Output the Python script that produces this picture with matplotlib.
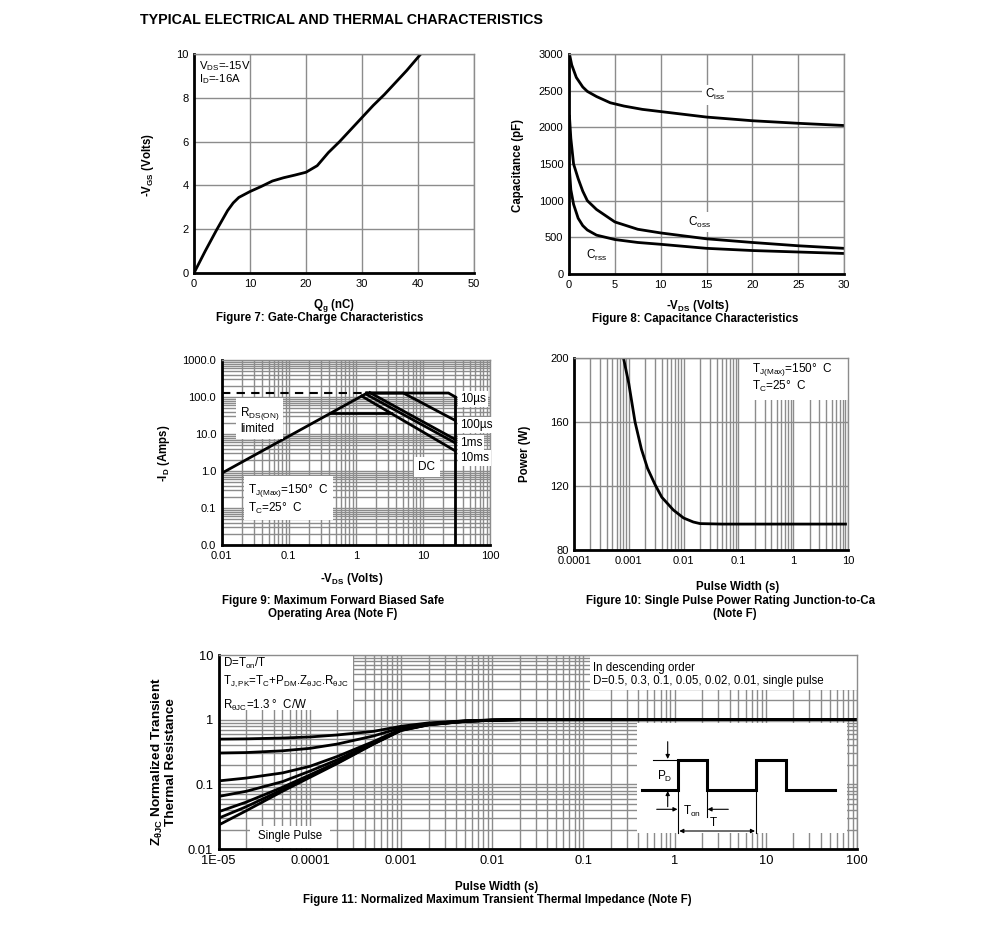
import numpy as np
import matplotlib
matplotlib.use("Agg")
import matplotlib.pyplot as plt
from matplotlib.ticker import FixedLocator, LogLocator, NullFormatter, FixedFormatter
from matplotlib.patches import Rectangle

plt.rcParams['font.family'] = 'Liberation Sans'
plt.rcParams['mathtext.fontset'] = 'custom'
plt.rcParams['mathtext.rm'] = 'Liberation Sans'
plt.rcParams['mathtext.it'] = 'Liberation Sans:italic'
plt.rcParams['mathtext.bf'] = 'Liberation Sans:bold'
plt.rcParams['mathtext.default'] = 'regular'

# ---- data ----
# Figure 7: gate charge
qg = [0, 2, 4, 6, 7, 8, 10, 12, 14, 16, 18, 20, 22, 24, 26, 28, 30, 32, 34, 36, 38, 40.5]
vgs = [0, 1.0, 1.95, 2.85, 3.2, 3.45, 3.72, 3.95, 4.2, 4.35, 4.47, 4.6, 4.9, 5.5, 6.0, 6.55, 7.1,
       7.65, 8.15, 8.7, 9.25, 10]

# Figure 8: capacitance
ciss_v = [0.05, 0.3, 0.8, 1.5, 2, 3, 4.5, 6, 8, 10, 15, 20, 25, 30]
ciss_c = [3000, 2850, 2680, 2550, 2490, 2420, 2335, 2290, 2245, 2215, 2140, 2090, 2055, 2025]
coss_v = [0.05, 0.2, 0.5, 1, 1.5, 2, 3, 5, 7.5, 10, 15, 20, 25, 30]
coss_c = [2150, 1850, 1500, 1300, 1130, 1000, 880, 710, 610, 560, 480, 430, 385, 350]
crss_v = [0.05, 0.2, 0.5, 1, 1.5, 2, 3, 5, 7.5, 10, 15, 20, 25, 30]
crss_c = [1420, 1150, 950, 760, 660, 600, 530, 470, 430, 405, 350, 320, 300, 280]

# Figure 9: safe operating area
rds_v, rds_i = [0.01, 1.45], [0.87, 126]
lim_v, lim_i = [0.01, 1.45], [126, 126]
us10_v, us10_i = [1.45, 24, 30], [128, 128, 102]
us100_v, us100_i = [1.45, 5.1, 30], [128, 128, 23.5]
ms1_v, ms1_i = [1.62, 30], [131, 7.2]
ms10_v, ms10_i = [1.41, 30], [120, 5.8]
dc_v, dc_i = [1.22, 30], [106, 3.54]
dcflat_v, dcflat_i = [0.41, 3.4], [36, 36]
vmax_v, vmax_i = [30, 30], [102, 0.01]

# Figure 10: single pulse power
pw = [0.0008, 0.001, 0.0013, 0.0017, 0.0022, 0.003, 0.004, 0.0065, 0.01, 0.015, 0.02, 0.05, 0.1, 1, 9]
pwr = [200, 184, 160, 143, 131, 121, 113, 105, 100, 97.5, 96.5, 96.2, 96.2, 96.2, 96.2]

# Figure 11: transient thermal impedance
zt = [1e-5, 2e-5, 5e-5, 1e-4, 2e-4, 5e-4, 1e-3, 2e-3, 5e-3, 1e-2, 2e-2, 100]
z_d05 = [0.50, 0.505, 0.52, 0.54, 0.58, 0.66, 0.79, 0.89, 0.96, 0.99, 1.0, 1.0]
z_d03 = [0.305, 0.31, 0.33, 0.36, 0.42, 0.56, 0.75, 0.87, 0.955, 0.985, 1.0, 1.0]
z_d01 = [0.113, 0.125, 0.15, 0.19, 0.27, 0.46, 0.71, 0.85, 0.95, 0.985, 1.0, 1.0]
z_d005 = [0.065, 0.078, 0.11, 0.16, 0.24, 0.44, 0.70, 0.845, 0.945, 0.98, 1.0, 1.0]
z_d002 = [0.0377, 0.053, 0.09, 0.14, 0.22, 0.43, 0.69, 0.84, 0.94, 0.98, 1.0, 1.0]
z_d001 = [0.030, 0.045, 0.083, 0.133, 0.215, 0.425, 0.685, 0.835, 0.94, 0.98, 1.0, 1.0]
z_single = [0.0235, 0.039, 0.078, 0.128, 0.21, 0.42, 0.68, 0.83, 0.94, 0.98, 1.0, 1.0]

# ---- layout helpers (pixel based) ----
W, H = 991, 948
GRID = '#8c8c8c'
LBL = 8.3    # bold axis labels / captions
TXT = 8.5    # in-plot notes
fig = plt.figure(figsize=(W / 100, H / 100), dpi=100)


def rect(x0, x1, y0, y1):
    return [x0 / W, 1 - y1 / H, (x1 - x0) / W, (y1 - y0) / H]


def ftext(x, y, s, **kw):
    kw.setdefault('fontsize', LBL)
    kw.setdefault('fontweight', 'bold')
    kw.setdefault('va', 'center')
    kw.setdefault('ha', 'center')
    fig.text(x / W, 1 - y / H, s, **kw)


def style(ax, size=8):
    for s in ('left', 'bottom'):
        ax.spines[s].set_color('black')
        ax.spines[s].set_linewidth(2)
    for s in ('top', 'right'):
        ax.spines[s].set_color(GRID)
        ax.spines[s].set_linewidth(1)
    ax.tick_params(which='both', length=0, labelsize=size, pad=4)


def logaxis(axis, ticks, labels):
    axis.set_major_locator(FixedLocator(ticks))
    axis.set_major_formatter(FixedFormatter(labels))
    axis.set_minor_locator(LogLocator(base=10, subs=np.arange(2, 10), numticks=20))
    axis.set_minor_formatter(NullFormatter())


box = dict(facecolor='white', edgecolor='none', pad=1.5)
LW = 2

ftext(140, 20, 'TYPICAL ELECTRICAL AND THERMAL CHARACTERISTICS', ha='left', fontsize=10.3)

# ---- Figure 7 ----
ax = fig.add_axes(rect(194, 474, 54, 273))
ax.plot(qg, vgs, color='k', lw=LW)
ax.set_xlim(0, 50)
ax.set_ylim(0, 10)
ax.set_xticks(range(0, 51, 10))
ax.set_yticks(range(0, 11, 2))
ax.grid(True, color=GRID, lw=1)
style(ax)
ax.text(0.018, 0.915, 'V$_{DS}$=-15V\nI$_{D}$=-16A', transform=ax.transAxes, fontsize=8.2,
        va='center', linespacing=1.0)
ftext(148, 165, '-V$_{GS}$ (Volts)', rotation=90)
ftext(334, 305, 'Q$_{g}$ (nC)')
ftext(320, 318, 'Figure 7: Gate-Charge Characteristics')

# ---- Figure 8 ----
ax = fig.add_axes(rect(569, 844, 54, 274))
ax.plot(ciss_v, ciss_c, color='k', lw=LW)
ax.plot(coss_v, coss_c, color='k', lw=LW)
ax.plot(crss_v, crss_c, color='k', lw=LW)
ax.set_xlim(0, 30)
ax.set_ylim(0, 3000)
ax.set_xticks(range(0, 31, 5))
ax.set_yticks(range(0, 3001, 500))
ax.grid(True, color=GRID, lw=1)
style(ax)
ax.text(15.9, 2442, 'C$_{iss}$', fontsize=TXT, ha='center', va='center', bbox=box)
ax.text(14.2, 709, 'C$_{oss}$', fontsize=TXT, ha='center', va='center', bbox=box)
ax.text(3.05, 259, 'C$_{rss}$', fontsize=TXT, ha='center', va='center', bbox=box)
ftext(518, 165, 'Capacitance (pF)', rotation=90)
ftext(698, 306, '-V$_{DS}$ (Volts)')
ftext(695, 319, 'Figure 8: Capacitance Characteristics')

# ---- Figure 9 ----
ax = fig.add_axes(rect(221.7, 490, 360, 545))
ax.set_xscale('log')
ax.set_yscale('log')
ax.plot(lim_v, lim_i, color='k', lw=1.5, ls=(0, (4, 3)))
for xs, ys in [(rds_v, rds_i), (us10_v, us10_i), (us100_v, us100_i), (ms1_v, ms1_i),
               (ms10_v, ms10_i), (dc_v, dc_i), (dcflat_v, dcflat_i), (vmax_v, vmax_i)]:
    ax.plot(xs, ys, color='k', lw=LW, solid_joinstyle='miter')
ax.set_xlim(0.01, 100)
ax.set_ylim(0.01, 1000)
logaxis(ax.xaxis, [0.01, 0.1, 1, 10, 100], ['0.01', '0.1', '1', '10', '100'])
logaxis(ax.yaxis, [0.01, 0.1, 1, 10, 100, 1000], ['0.0', '0.1', '1.0', '10.0', '100.0', '1000.0'])
ax.grid(True, which='both', color=GRID, lw=1)
style(ax)
ax.text(0.0187, 23.9, 'R$_{DS(ON)}$\nlimited', fontsize=TXT, va='center', bbox=dict(box, pad=3),
        linespacing=1.1)
ax.text(0.0247, 0.175, 'T$_{J(Max)}$=150°  C\nT$_{C}$=25°  C', fontsize=TXT, va='center',
        bbox=dict(box, pad=3), linespacing=1.1)
for y, s in [(88, '10µs'), (17.5, '100µs'), (5.7, '1ms'), (2.24, '10ms')]:
    ax.text(35.5, y, s, fontsize=TXT, va='center', bbox=box)
ax.text(11.5, 1.28, 'DC', fontsize=TXT, ha='center', va='center', bbox=dict(box, pad=3))
ftext(164, 453, '-I$_{D}$ (Amps)', rotation=90)
ftext(352, 579, '-V$_{DS}$ (Volts)')
ftext(333, 601, 'Figure 9: Maximum Forward Biased Safe')
ftext(333, 614, 'Operating Area (Note F)')

# ---- Figure 10 ----
ax = fig.add_axes(rect(574, 848, 358, 550))
ax.set_xscale('log')
ax.plot(pw, pwr, color='k', lw=LW)
ax.set_xlim(1e-4, 10)
ax.set_ylim(80, 200)
logaxis(ax.xaxis, [1e-4, 1e-3, 1e-2, 0.1, 1, 10], ['0.0001', '0.001', '0.01', '0.1', '1', '10'])
ax.set_yticks([80, 120, 160, 200])
ax.grid(True, axis='x', which='both', color=GRID, lw=1)
ax.grid(True, axis='y', which='major', color=GRID, lw=1)
style(ax)
ax.add_patch(Rectangle((0.642, 0.781), 0.358, 0.219, transform=ax.transAxes,
                       facecolor='white', edgecolor='none', zorder=1.6))
ax.text(0.65, 0.90, 'T$_{J(Max)}$=150°  C\nT$_{C}$=25°  C', transform=ax.transAxes,
        fontsize=TXT, va='center', linespacing=1.1)
ftext(525, 454, 'Power (W)', rotation=90)
ftext(738, 587, 'Pulse Width (s)')
ftext(586, 601, 'Figure 10: Single Pulse Power Rating Junction-to-Ca', ha='left')
ftext(735, 614, '(Note F)')

# ---- Figure 11 ----
ax = fig.add_axes(rect(218.7, 857, 655, 849))
ax.set_xscale('log')
ax.set_yscale('log')
for zs in [z_d05, z_d03, z_d01, z_d005, z_d002, z_d001, z_single]:
    ax.plot(zt, zs, color='k', lw=LW)
ax.set_xlim(1e-5, 100)
ax.set_ylim(0.01, 10)
logaxis(ax.xaxis, [1e-5, 1e-4, 1e-3, 1e-2, 0.1, 1, 10, 100],
        ['1E-05', '0.0001', '0.001', '0.01', '0.1', '1', '10', '100'])
logaxis(ax.yaxis, [0.01, 0.1, 1, 10], ['0.01', '0.1', '1', '10'])
ax.grid(True, which='both', color=GRID, lw=1)
style(ax, size=9.3)
for x0, y0, w, h in [(0.0, 0.716, 0.21, 0.284), (0.582, 0.82, 0.418, 0.18),
                     (0.049, 0.006, 0.126, 0.113), (0.655, 0.082, 0.329, 0.567)]:
    ax.add_patch(Rectangle((x0, y0), w, h, transform=ax.transAxes,
                           facecolor='white', edgecolor='none', zorder=1.6))
ax.text(0.007, 0.959, 'D=T$_{on}$/T', transform=ax.transAxes, fontsize=LBL, va='center')
ax.text(0.007, 0.866, 'T$_{J,PK}$=T$_{C}$+P$_{DM}$.Z$_{θJC}$.R$_{θJC}$', transform=ax.transAxes,
        fontsize=LBL, va='center')
ax.text(0.007, 0.742, 'R$_{θJC}$=1.3 °  C/W', transform=ax.transAxes, fontsize=LBL, va='center')
ax.text(0.586, 0.933, 'In descending order', transform=ax.transAxes, fontsize=LBL, va='center')
ax.text(0.586, 0.866, 'D=0.5, 0.3, 0.1, 0.05, 0.02, 0.01, single pulse', transform=ax.transAxes,
        fontsize=LBL, va='center')
ax.text(0.112, 0.067, 'Single Pulse', transform=ax.transAxes, fontsize=LBL, ha='center', va='center')
ftext(163, 762, 'Z$_{θJC}$ Normalized Transient\nThermal Resistance', rotation=90, linespacing=1.0,
      fontsize=9.7)
ftext(497, 887, 'Pulse Width (s)')
ftext(497, 900, 'Figure 11: Normalized Maximum Transient Thermal Impedance (Note F)')

# pulse schematic inset
ins = fig.add_axes(rect(637, 847, 723, 833))
ins.set_xlim(0, 210)
ins.set_ylim(110, 0)
ins.axis('off')
wave_x = [4.7, 41.3, 41.3, 69.7, 69.7, 119, 119, 148.7, 148.7, 198]
wave_y = [67, 67, 37, 37, 67, 67, 37, 37, 67, 67]
ins.plot(wave_x, wave_y, color='k', lw=2.2, solid_joinstyle='miter', clip_on=False)
thin = dict(color='k', lw=0.8, clip_on=False)
ins.plot([41.3, 41.3], [37, 110], **thin)
ins.plot([69.7, 69.7], [67, 94], **thin)
ins.plot([119, 119], [37, 110], **thin)
ins.plot([15.7, 41.3], [37, 37], **thin)
arrow = dict(arrowstyle='-|>', lw=0.8, color='k', mutation_scale=6, shrinkA=0, shrinkB=0)
ins.annotate('', xy=(30.7, 36), xytext=(30.7, 18.7), arrowprops=arrow)
ins.annotate('', xy=(30.7, 68), xytext=(30.7, 83.7), arrowprops=arrow)
ins.annotate('', xy=(40.5, 86.3), xytext=(19.7, 86.3), arrowprops=arrow)
ins.annotate('', xy=(70.5, 86.3), xytext=(91.3, 86.3), arrowprops=arrow)
ins.annotate('', xy=(118, 108), xytext=(42.3, 108),
             arrowprops=dict(arrow, arrowstyle='<|-|>'))
ins.text(28, 53.7, 'P$_{D}$', fontsize=TXT, ha='center', va='center')
ins.text(55, 88, 'T$_{on}$', fontsize=TXT, ha='center', va='center')
ins.text(76.3, 100.3, 'T', fontsize=TXT, ha='center', va='center')

fig.savefig('out.png', dpi=100)
